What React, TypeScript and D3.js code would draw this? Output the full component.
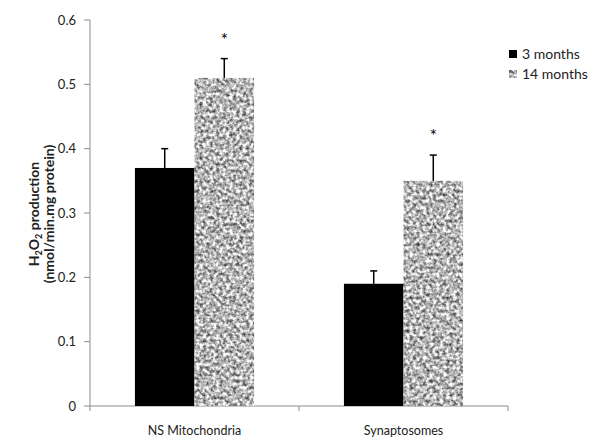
import React from "react";
import * as d3 from "d3";

const categories = ["NS Mitochondria", "Synaptosomes"];
const seriesNames = ["3 months", "14 months"];
const values3 = [0.37, 0.19];
const values14 = [0.51, 0.35];
const err3 = [0.03, 0.02];
const err14 = [0.03, 0.04];
const signif14 = [true, true];
const yTicks = [0, 0.1, 0.2, 0.3, 0.4, 0.5, 0.6];

const W = 595;
const H = 440;
const left = 90;
const right = 508;
const top = 20;
const bottom = 406;
const font = "Lato, 'Open Sans', sans-serif";

export default function App() {
  const y = d3.scaleLinear().domain([0, 0.6]).range([bottom, top]);
  const x0 = d3.scaleBand<string>().domain(categories).range([left, right]).paddingInner(0).paddingOuter(0);
  const bw = x0.bandwidth();
  const inner = d3.scaleBand<string>().domain(seriesNames).range([bw * 0.215, bw * 0.785]).padding(0);
  const series = [
    { name: seriesNames[0], vals: values3, errs: err3, solid: true },
    { name: seriesNames[1], vals: values14, errs: err14, solid: false },
  ];
  return (
    <svg width={W} height={H} style={{ display: "block", position: "absolute", left: 0, top: 0 }}>
      <defs>
        <filter
          id="noiseF"
          x="0"
          y="0"
          width="1"
          height="1"
          filterUnits="objectBoundingBox"
          colorInterpolationFilters="sRGB"
        >
          <feTurbulence type="fractalNoise" baseFrequency="0.3" numOctaves={2} seed={7} result="n" />
          <feGaussianBlur in="n" stdDeviation="0.6" result="nb" />
          <feColorMatrix
            in="nb"
            type="matrix"
            values="1.4 0 0 0 0.01  1.4 0 0 0 0.01  1.4 0 0 0 0.01  0 0 0 0 1"
            result="g"
          />
          <feComposite in="g" in2="SourceGraphic" operator="in" />
        </filter>
      </defs>
      <rect x={0} y={0} width={W} height={H} fill="#fff" />
      {/* y axis */}
      <line x1={left} x2={left} y1={top} y2={bottom} stroke="#8c8c8c" strokeWidth={1} />
      {yTicks.map((t) => (
        <g key={t}>
          <line x1={left - 6} x2={left} y1={y(t)} y2={y(t)} stroke="#8c8c8c" />
          <text x={left - 14} y={y(t)} dy="0.35em" textAnchor="end" fontFamily={font} fontSize={13} fill="#222">
            {t === 0 ? "0" : t.toFixed(1)}
          </text>
        </g>
      ))}
      {/* x axis */}
      <line x1={left} x2={right} y1={bottom} y2={bottom} stroke="#8c8c8c" />
      {[left, ...categories.map((c) => (x0(c) as number) + bw)].map((p, i) => (
        <line key={i} x1={p} x2={p} y1={bottom} y2={bottom + 5} stroke="#8c8c8c" />
      ))}
      {categories.map((c) => (
        <text key={c} x={(x0(c) as number) + bw / 2} y={431} dy="0.35em" textAnchor="middle" fontFamily={font} fontSize={12.5} fill="#222">
          {c}
        </text>
      ))}
      {/* bars */}
      {series.map((s) =>
        categories.map((c, i) => {
          const bx = (x0(c) as number) + (inner(s.name) as number);
          const w = inner.bandwidth();
          const cx = bx + w / 2;
          const v = s.vals[i];
          const e = s.errs[i];
          return (
            <g key={s.name + c}>
              {s.solid ? (
                <rect x={bx} y={y(v)} width={w} height={bottom - y(v)} fill="#000" />
              ) : (
                <rect x={bx} y={y(v)} width={w} height={bottom - y(v)} fill="#b0b0b0" filter="url(#noiseF)" />
              )}
              <line x1={cx} x2={cx} y1={y(v)} y2={y(v + e)} stroke="#000" strokeWidth={1.5} />
              <line x1={cx - 3.5} x2={cx + 3.5} y1={y(v + e)} y2={y(v + e)} stroke="#000" strokeWidth={1.5} />
              {!s.solid && signif14[i] ? (
                <text x={cx} y={y(v + e) - 13} textAnchor="middle" fontFamily={font} fontSize={17} fill="#000">
                  *
                </text>
              ) : null}
            </g>
          );
        })
      )}
      {/* legend */}
      {seriesNames.map((n, i) => (
        <g key={n} transform={`translate(509, ${54 + i * 20})`}>
          {i === 0 ? (
            <rect x={0} y={-4} width={8} height={8} fill="#000" />
          ) : (
            <rect x={0} y={-4} width={8} height={8} fill="#b0b0b0" filter="url(#noiseF)" />
          )}
          <text x={13} y={0} dy="0.35em" fontFamily={font} fontSize={14} fill="#222">
            {n}
          </text>
        </g>
      ))}
      {/* y label */}
      <g transform={`translate(39, 214) rotate(-90)`}>
        <text x={0} y={0} textAnchor="middle" fontFamily={font} fontSize={14} fontWeight="bold" fill="#222">
          H<tspan fontSize={9} dy={3}>2</tspan>
          <tspan dy={-3}>O</tspan>
          <tspan fontSize={9} dy={3}>2</tspan>
          <tspan dy={-3}> production</tspan>
        </text>
        <text x={0} y={15} textAnchor="middle" fontFamily={font} fontSize={14} fontWeight="bold" fill="#222">
          (nmol/min.mg protein)
        </text>
      </g>
    </svg>
  );
}
